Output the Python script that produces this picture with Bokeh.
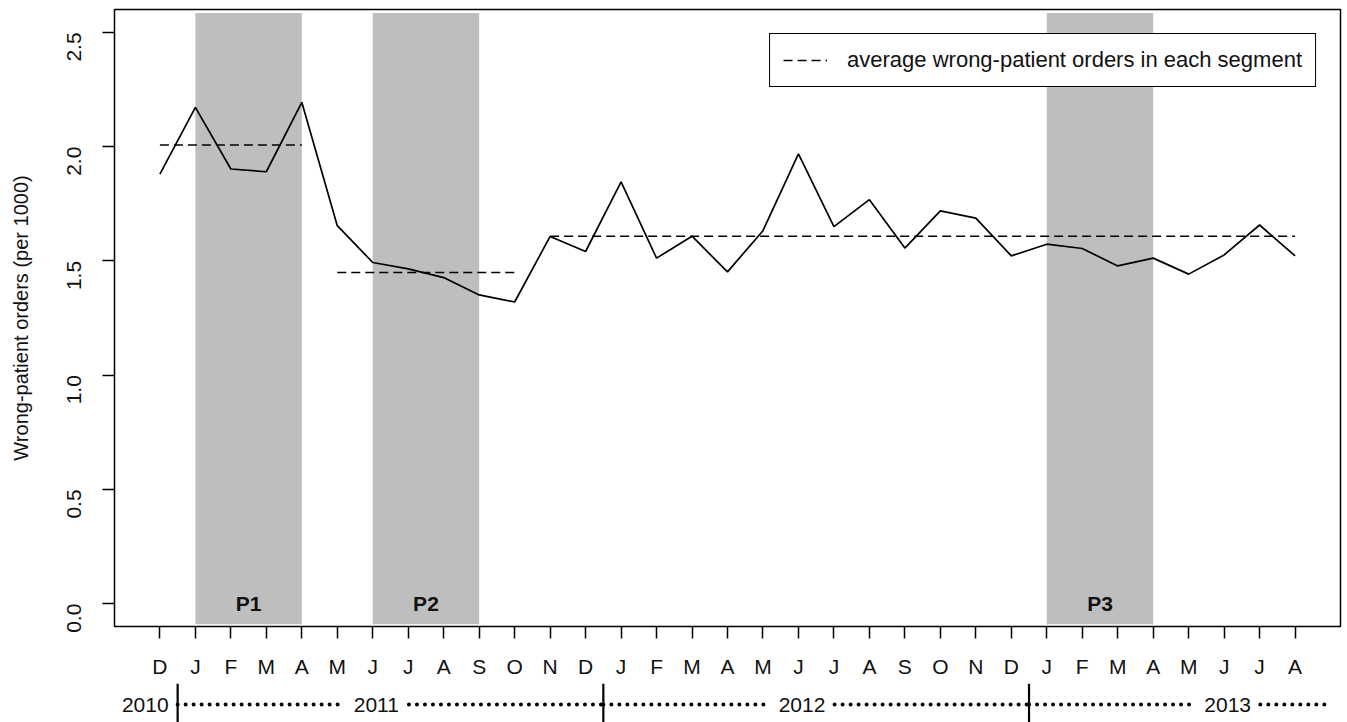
import math
from bokeh.plotting import figure
from bokeh.models import Range1d, FixedTicker, Legend, LegendItem
from bokeh.layouts import column
from bokeh.embed import file_html
from bokeh.resources import INLINE
from bokeh.core.properties import value

# ---------------- data ----------------
month_labels = ["D",
                "J", "F", "M", "A", "M", "J", "J", "A", "S", "O", "N", "D",
                "J", "F", "M", "A", "M", "J", "J", "A", "S", "O", "N", "D",
                "J", "F", "M", "A", "M", "J", "J", "A"]
rates = [1.880,
         2.172, 1.902, 1.890, 2.194, 1.654, 1.493, 1.465, 1.427, 1.351, 1.320, 1.607, 1.541,
         1.846, 1.512, 1.608, 1.452, 1.632, 1.968, 1.650, 1.768, 1.556, 1.719, 1.687, 1.522,
         1.573, 1.554, 1.478, 1.512, 1.442, 1.526, 1.657, 1.522]
seg_start = [1, 6, 12]
seg_end = [5, 11, 33]
seg_avg = [2.007, 1.449, 1.608]
period_names = ["P1", "P2", "P3"]
period_start = [2, 7, 26]
period_end = [5, 10, 29]
year_labels = ["2010", "2011", "2012", "2013"]
year_pos = [1.5, 7.1, 19.1, 31.1]
year_boundaries = [1.5, 13.5, 25.5]
y_ticks = [0.0, 0.5, 1.0, 1.5, 2.0, 2.5]

months = list(range(1, len(rates) + 1))

FONT = "Liberation Sans"
TXT = "#111111"
GRAY = "#bebebe"

W = 1344
x_range = Range1d(-0.28, 34.28)

p = figure(width=W, height=683, x_range=x_range, y_range=Range1d(-0.1, 2.6),
           output_backend="svg", toolbar_location=None,
           min_border_left=114, min_border_right=4, min_border_top=9, min_border_bottom=57)
p.xgrid.visible = False
p.ygrid.visible = False
p.outline_line_color = "black"
p.outline_line_width = 1.5
p.outline_line_alpha = 1
p.background_fill_color = "white"
p.border_fill_color = "white"

# shaded periods
p.quad(left=period_start, right=period_end, bottom=-0.09, top=2.585,
       fill_color=GRAY, line_color=None)
p.text(x=[(a + b) / 2 for a, b in zip(period_start, period_end)], y=[0] * 3, text=period_names,
       text_font=value(FONT), text_font_size="21px", text_font_style="bold",
       text_align="center", text_baseline="middle", text_color=TXT)

# series
p.line(months, rates, line_color="black", line_width=1.7)

# segment averages
avg_r = p.segment(x0=seg_start, x1=seg_end, y0=seg_avg, y1=seg_avg,
                  line_color="black", line_width=1.5, line_dash="9 5")

legend = Legend(items=[LegendItem(label="average wrong-patient orders in each segment",
                                  renderers=[avg_r])],
                location="top_right", margin=24, padding=13, spacing=0,
                glyph_width=44, glyph_height=22, label_standoff=20,
                label_text_font=FONT, label_text_font_size="22px", label_text_color=TXT,
                border_line_color="black", border_line_width=1.2, border_line_alpha=1,
                background_fill_color="white", background_fill_alpha=1)
p.add_layout(legend)

# axes
xa = p.xaxis[0]
xa.ticker = FixedTicker(ticks=months)
xa.major_label_overrides = {m: lab for m, lab in zip(months, month_labels)}
xa.major_tick_in = 0
xa.major_tick_out = 12
xa.minor_tick_line_color = None
xa.major_tick_line_width = 1.5
xa.major_tick_line_color = "black"
xa.axis_line_color = "black"
xa.major_label_standoff = 16
xa.major_label_text_font = FONT
xa.major_label_text_font_size = "21px"
xa.major_label_text_color = TXT

ya = p.yaxis[0]
ya.ticker = FixedTicker(ticks=y_ticks)
ya.major_label_overrides = {t: f"{t:.1f}" for t in y_ticks}
ya.major_label_orientation = math.pi / 2
ya.major_tick_in = 0
ya.major_tick_out = 12
ya.minor_tick_line_color = None
ya.major_tick_line_width = 1.5
ya.major_tick_line_color = "black"
ya.axis_line_color = "black"
ya.major_label_standoff = 28
ya.major_label_text_font = FONT
ya.major_label_text_font_size = "21px"
ya.major_label_text_color = TXT
ya.axis_label = "Wrong-patient orders (per 1000)"
ya.axis_label_text_font = FONT
ya.axis_label_text_font_size = "20px"
ya.axis_label_text_font_style = "normal"
ya.axis_label_text_color = TXT
ya.axis_label_standoff = 26

# ---------------- year row ----------------
q = figure(width=W, height=39, x_range=x_range, y_range=Range1d(0, 1),
           output_backend="svg", toolbar_location=None,
           min_border_left=114, min_border_right=4, min_border_top=0, min_border_bottom=0)
q.axis.visible = False
q.xgrid.visible = False
q.ygrid.visible = False
q.outline_line_color = None
q.background_fill_color = "white"
q.border_fill_color = "white"

YT = 0.46
half = 0.92
q.segment(x0=year_boundaries, x1=year_boundaries, y0=[0] * 3, y1=[1] * 3,
          line_color="black", line_width=2.2)
dot_x0 = [year_boundaries[0], year_pos[1] + half, year_boundaries[1], year_pos[2] + half,
          year_boundaries[2], year_pos[3] + half]
dot_x1 = [year_pos[1] - half, year_boundaries[1], year_pos[2] - half, year_boundaries[2],
          year_pos[3] - half, 33.9]
q.segment(x0=dot_x0, x1=dot_x1, y0=[YT] * 6, y1=[YT] * 6,
          line_color="black", line_width=4, line_dash="0 8", line_cap="round")
q.text(x=[year_pos[0]], y=[YT], text=[year_labels[0]], x_offset=-9,
       text_font=value(FONT), text_font_size="21px", text_align="right",
       text_baseline="middle", text_color=TXT)
q.text(x=year_pos[1:], y=[YT] * 3, text=year_labels[1:],
       text_font=value(FONT), text_font_size="21px", text_align="center",
       text_baseline="middle", text_color=TXT)

layout = column(p, q, spacing=0)
open("out.html", "w").write(file_html(layout, INLINE))
